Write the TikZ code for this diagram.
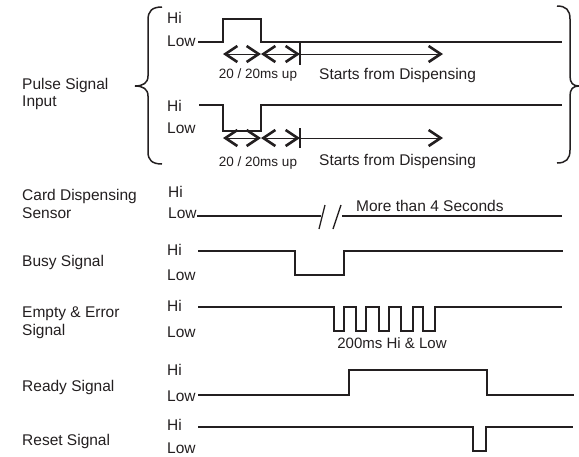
\documentclass[tikz,border=0pt]{standalone}
\usepackage{fontspec}
\setmainfont{Liberation Sans}
\usetikzlibrary{arrows.meta}
\definecolor{ink}{HTML}{231F20}
\begin{document}
\begin{tikzpicture}[x=1pt,y=-1pt,
  sig/.style={draw=ink, line width=1.9pt, line join=miter},
  brace/.style={draw=ink, line width=1.5pt},
  tick/.style={draw=ink, line width=1.3pt},
  lbl/.style={anchor=base west, inner sep=0pt, text=ink, font=\fontsize{15.5}{18}\selectfont},
  smalltxt/.style={anchor=base, inner sep=0pt, text=ink, font=\fontsize{13.5}{16}\selectfont},
  midtxt/.style={anchor=base, inner sep=0pt, text=ink, font=\fontsize{15}{18}\selectfont},
  dimline/.style={draw=ink, line width=0.9pt},
  dbl/.style={dimline, arrows={Straight Barb[length=12pt,width=16pt,line width=2.6pt]-Straight Barb[length=12pt,width=16pt,line width=2.6pt]}},
  sgl/.style={dimline, arrows={-Straight Barb[length=12pt,width=16pt,line width=2.6pt]}},
]
\useasboundingbox (0,0) rectangle (579,456);

% ---- left labels
\node[lbl] (pulse) at (22,89) {Pulse Signal};
\node[lbl] (input) at (22,106) {Input};
\node[lbl] (card) at (22,200) {Card Dispensing};
\node[lbl] (sensor) at (22,218) {Sensor};
\node[lbl] (busy) at (22,266) {Busy Signal};
\node[lbl] (empty) at (22,317) {Empty \& Error};
\node[lbl] (emptysig) at (22,335) {Signal};
\node[lbl] (ready) at (22,391) {Ready Signal};
\node[lbl] (reset) at (22,445) {Reset Signal};

% ---- Hi / Low labels
\node[lbl] (hi1) at (167,23) {Hi};
\node[lbl] (lo1) at (167,46) {Low};
\node[lbl] (hi2) at (167,111) {Hi};
\node[lbl] (lo2) at (167,133) {Low};
\node[lbl] (hi3) at (168,197) {Hi};
\node[lbl] (lo3) at (168,218) {Low};
\node[lbl] (hi4) at (167,255) {Hi};
\node[lbl] (lo4) at (167,280) {Low};
\node[lbl] (hi5) at (167,311) {Hi};
\node[lbl] (lo5) at (167,337) {Low};
\node[lbl] (hi6) at (167,375) {Hi};
\node[lbl] (lo6) at (167,401) {Low};
\node[lbl] (hi7) at (167,430) {Hi};
\node[lbl] (lo7) at (167,453) {Low};

% ---- braces
\draw[brace] (162,7) .. controls (152,7) and (148,11) .. (148,20) -- (148,76)
  .. controls (148,83) and (143,86) .. (135,86)
  .. controls (143,86) and (148,89) .. (148,96) -- (148,152)
  .. controls (148,160) and (152,164) .. (162,164);
\draw[brace] (557,6) .. controls (566,6) and (570,10) .. (570,19) -- (570,76)
  .. controls (570,83) and (573,86) .. (579,86)
  .. controls (573,86) and (570,89) .. (570,96) -- (570,150)
  .. controls (570,159) and (566,163) .. (557,163);

% ---- pulse input 1
\draw[sig] (198,42) -- (223,42) -- (223,19) -- (261,19) -- (261,42) -- (562,42);
\draw[tick] (300,42) -- (300,65);
\coordinate (p1a) at (223,54);
\coordinate (p1b) at (261,54);
\coordinate (p1c) at (300,54);
\coordinate (p1d) at (443,54);
\draw[dbl] (p1a) -- (p1b);
\draw[dbl] (p1b) -- (p1c);
\draw[sgl] (p1c) -- (p1d);
\node[smalltxt] (t1) at (258,78) {20 / 20ms up};
\node[lbl] (s1) at (319,79) {Starts from Dispensing};

% ---- pulse input 2
\draw[sig] (199,105) -- (223,105) -- (223,131) -- (261,131) -- (261,105) -- (562,105);
\draw[tick] (300,128) -- (300,148);
\coordinate (p2a) at (223,138);
\coordinate (p2b) at (261,138);
\coordinate (p2c) at (300,138);
\coordinate (p2d) at (443,138);
\draw[dbl] (p2a) -- (p2b);
\draw[dbl] (p2b) -- (p2c);
\draw[sgl] (p2c) -- (p2d);
\node[smalltxt] (t2) at (258,166) {20 / 20ms up};
\node[lbl] (s2) at (319,165) {Starts from Dispensing};

% ---- card dispensing sensor
\draw[sig] (197,216) -- (321,216);
\draw[tick] (319,229) -- (325,205);
\draw[tick] (333,229) -- (341,205);
\draw[sig] (342,216) -- (562,216);
\node[lbl] (more) at (356,211) {More than 4 Seconds};

% ---- busy
\draw[sig] (198,251) -- (295,251) -- (295,275) -- (344,275) -- (344,251) -- (563,251);

% ---- empty & error
\draw[sig] (198,307) -- (334,307) -- (334,331) -- (344,331) -- (344,307)
  -- (356,307) -- (356,331) -- (366,331) -- (366,307)
  -- (379,307) -- (379,331) -- (389,331) -- (389,307)
  -- (401,307) -- (401,331) -- (413,331) -- (413,307)
  -- (423,307) -- (423,331) -- (435,331) -- (435,307) -- (562,307);
\node[midtxt] (ms) at (392,348) {200ms Hi \& Low};

% ---- ready
\draw[sig] (198,395) -- (349,395) -- (349,370) -- (487,370) -- (487,395) -- (574,395);

% ---- reset
\draw[sig] (198,427) -- (473,427) -- (473,451) -- (486,451) -- (486,427) -- (573,427);
\end{tikzpicture}
\end{document}
